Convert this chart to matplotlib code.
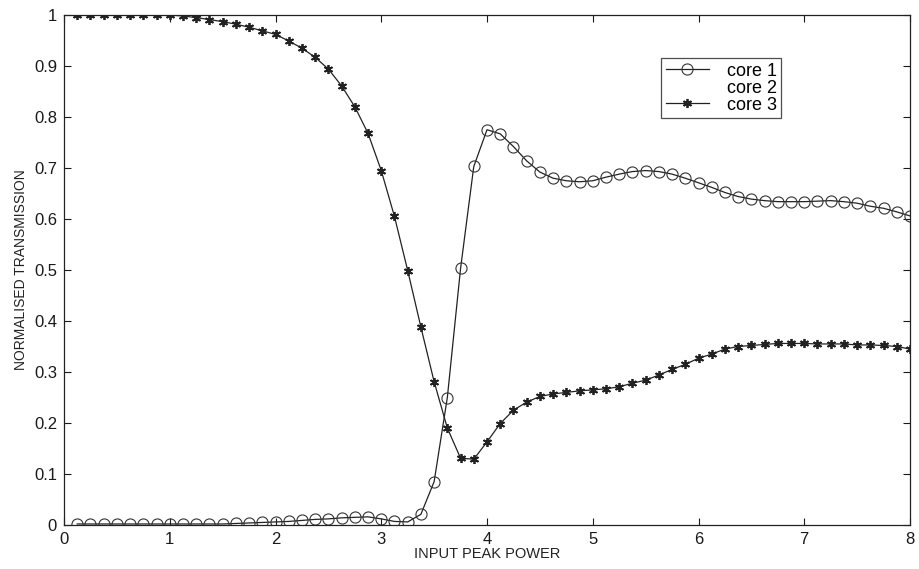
import numpy as np
import matplotlib
matplotlib.use("Agg")
import matplotlib.pyplot as plt

plt.rcParams['font.family'] = ['Liberation Sans', 'DejaVu Sans']

# x grid: input peak power, 64 samples from 0.125 to 8
power = np.linspace(0.125, 8.0, 64)

core1 = [0.002, 0.002, 0.002, 0.002, 0.002, 0.002, 0.002, 0.002, 0.002, 0.002,
         0.002, 0.002, 0.003, 0.004, 0.005, 0.006, 0.007, 0.009, 0.011, 0.012,
         0.014, 0.015, 0.016, 0.012, 0.007, 0.006, 0.021, 0.085, 0.250, 0.503,
         0.703, 0.775, 0.767, 0.742, 0.714, 0.692, 0.680, 0.675, 0.673, 0.675,
         0.682, 0.688, 0.693, 0.695, 0.693, 0.688, 0.680, 0.671, 0.662, 0.652,
         0.644, 0.639, 0.636, 0.634, 0.634, 0.634, 0.635, 0.636, 0.634, 0.631,
         0.625, 0.621, 0.614, 0.606]

core3 = [1.000, 1.000, 1.000, 1.000, 1.000, 1.000, 1.000, 1.000, 0.998, 0.995,
         0.991, 0.987, 0.982, 0.976, 0.969, 0.962, 0.949, 0.935, 0.917, 0.894,
         0.861, 0.820, 0.768, 0.695, 0.605, 0.499, 0.388, 0.281, 0.190, 0.131,
         0.129, 0.163, 0.199, 0.225, 0.241, 0.252, 0.257, 0.260, 0.263, 0.265,
         0.267, 0.271, 0.278, 0.284, 0.294, 0.305, 0.315, 0.327, 0.335, 0.345,
         0.350, 0.352, 0.354, 0.356, 0.356, 0.356, 0.355, 0.355, 0.355, 0.353,
         0.353, 0.352, 0.350, 0.345]

xticks = [0, 1, 2, 3, 4, 5, 6, 7, 8]
yticks = [0, 0.1, 0.2, 0.3, 0.4, 0.5, 0.6, 0.7, 0.8, 0.9, 1]
ytick_labels = ['0', '0.1', '0.2', '0.3', '0.4', '0.5', '0.6', '0.7', '0.8', '0.9', '1']

fig = plt.figure(figsize=(9.19, 5.69), dpi=100)
ax = fig.add_axes([64/919, 1-525/569, (910-64)/919, (525-15)/569])

ax.plot(power, core1, color='#222222', lw=0.9, marker='o', ms=8,
        mfc='none', mec='#333333', mew=0.8, label='core 1')
ax.plot([], [], linestyle='none', label='core 2')
ax.plot(power, core3, color='#222222', lw=0.9, marker=(6, 2, 0), ms=6.5,
        mec='#222222', mew=1.3, label='core 3')

ax.set_xlim(0, 8)
ax.set_ylim(0, 1)
ax.set_xticks(xticks)
ax.set_xticklabels([str(t) for t in xticks])
ax.set_yticks(yticks)
ax.set_yticklabels(ytick_labels)
ax.tick_params(direction='in', top=True, right=True, length=5, width=0.8,
               labelsize=12, colors='#1a1a1a', pad=5)
for s in ax.spines.values():
    s.set_linewidth(0.9)
    s.set_color('#222222')

ax.set_xlabel('INPUT PEAK POWER', fontsize=10.5, color='#222222', labelpad=0)
ax.set_ylabel('NORMALISED TRANSMISSION', fontsize=10, color='#222222', labelpad=4)

leg = ax.legend(loc='upper left', bbox_to_anchor=((661-64)/846, 1-(58-15)/510),
                fontsize=13, frameon=True, fancybox=False, edgecolor='#222222',
                handlelength=2.4, borderpad=0.25, labelspacing=0.0, handletextpad=1.0,
                borderaxespad=0)
leg.get_frame().set_linewidth(0.9)

fig.savefig('out.png', dpi=100)
